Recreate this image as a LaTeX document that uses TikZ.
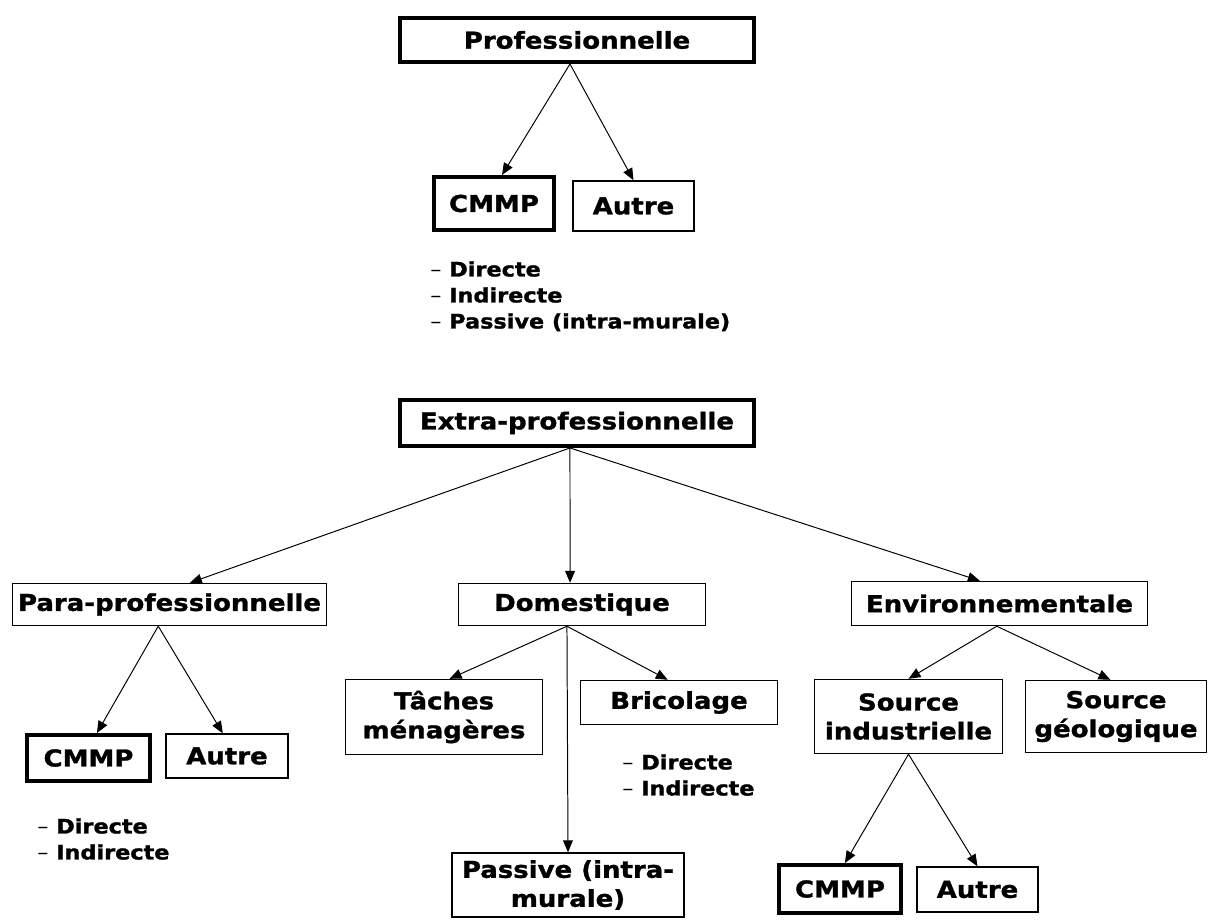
\documentclass[tikz,border=0pt]{standalone}
\usepackage{fontspec}
\setmainfont{DejaVu Sans}[FakeStretch=1.12, BoldFeatures={FakeBold=1.3}]
\usetikzlibrary{arrows.meta}

\begin{document}
\begin{tikzpicture}[x=0.025cm, y=-0.025cm,
       wh/.style 2 args = {minimum width=#1*0.025cm, minimum height=#2*0.025cm},
       box/.style = {draw, line width=1pt, inner sep=0pt, align=center,
                     font=\fontsize{16.5}{20.6}\selectfont\bfseries},
     thick box/.style = {box, line width=2.8pt},
      list/.style = {anchor=north west, inner sep=0pt, align=left,
                     font=\fontsize{14.2}{18.5}\selectfont\bfseries},
every edge/.style = {draw, line width=0.7pt, -{Triangle[length=8.5pt,width=7pt]}}
                        ]
\useasboundingbox (0,0) rectangle (1208,921);
% professionnelle
\node (prof) at (577,40) [thick box, wh={354}{44}] {Professionnelle};
\node (cmmp1) at (494,203.5) [thick box, wh={120}{53}] {CMMP};
\node (autre1) at (633.5,206) [box, wh={121}{50}] {Autre};
\node (list1) at (430,261) [list] {{\mdseries –} Directe\\{\mdseries –} Indirecte\\{\mdseries –} Passive (intra-murale)};

% extra-professionnelle
\node (extra) at (577,423) [thick box, wh={354}{46}] {Extra-professionnelle};
\node (para) at (169.5,604.5) [box, wh={314}{42}] {Para-professionnelle};
\node (dom) at (582,604.5) [box, wh={247}{42}] {Domestique};
\node (env) at (999.5,603.5) [box, wh={296}{44}] {Environnementale};

\node (cmmp2) at (88.5,758) [thick box, wh={123}{46}] {CMMP};
\node (autre2) at (227,756) [box, wh={122}{44}] {Autre};
\node (list2) at (37,818) [list] {{\mdseries –} Directe\\{\mdseries –} Indirecte};

\node (taches) at (444,717) [box, wh={197}{75}] {Tâches\\ménagères};
\node (bric) at (679,702.5) [box, wh={197}{44}] {Bricolage};
\node (list3) at (622,754) [list] {{\mdseries –} Directe\\{\mdseries –} Indirecte};
\node (passive) at (568,885) [box, wh={232}{64}] {Passive (intra-\\murale)};

\node (srcind) at (908.5,716.5) [box, wh={188}{74}] {Source\\industrielle};
\node (srcgeo) at (1116,716.5) [box, wh={181}{72}] {Source\\géologique};
\node (cmmp3) at (840,889) [thick box, wh={122}{48}] {CMMP};
\node (autre3) at (977.5,889.5) [box, wh={121}{45}] {Autre};

%

\path   ([xshift=-5pt]prof.south) edge ([xshift=5.7pt]cmmp1.north)
        ([xshift=-5pt]prof.south) edge (autre1.north)
        ([xshift=-5pt]extra.south) edge ([xshift=14.5pt]para.north)
        ([xshift=-5pt]extra.south) edge ([xshift=-8.5pt]dom.north)
        ([xshift=-5pt]extra.south) edge ([xshift=-14pt]env.north)
        ([xshift=-8pt]para.south) edge ([xshift=6pt]cmmp2.north)
        ([xshift=-8pt]para.south) edge ([xshift=-3pt]autre2.north)
        ([xshift=-10.7pt]dom.south) edge ([xshift=4pt]taches.north)
        ([xshift=-10.7pt]dom.south) edge ([xshift=-8pt]bric.north)
        ([xshift=-10.7pt]dom.south) edge (passive.north)
        ([xshift=-2pt]env.south) edge (srcind.north)
        ([xshift=-2pt]env.south) edge ([xshift=-4pt]srcgeo.north)
        (srcind.south) edge ([xshift=3.5pt]cmmp3.north)
        (srcind.south) edge (autre3.north);
\end{tikzpicture}
\end{document}
